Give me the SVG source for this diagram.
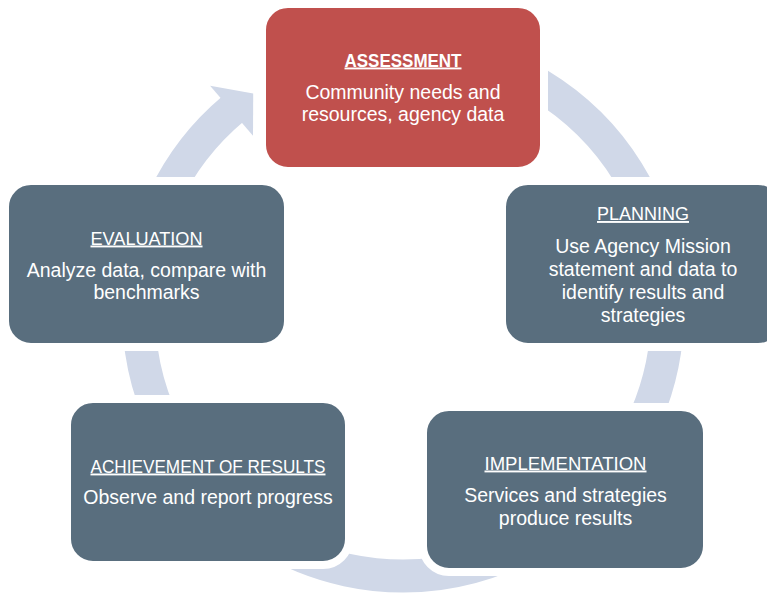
<svg xmlns="http://www.w3.org/2000/svg" width="767" height="596" viewBox="0 0 767 596">
  <style>
    .box { fill: #596E7E; stroke: #FFFFFF; stroke-width: 8; }
    .red { fill: #C0504D; }
    .arc { fill: none; stroke: #D0D8E8; stroke-width: 33; stroke-linecap: butt; }
    .head { fill: #D0D8E8; }
    text { font-family: "Liberation Sans", Arial, sans-serif; fill: #FFFFFF; text-anchor: middle; }
    .t { font-size: 19px; text-decoration: underline; }
    .tb { font-weight: bold; }
    .b { font-size: 19.5px; }
  </style>
  <rect width="767" height="596" fill="#FFFFFF"/>
  <g id="connectors">
    <path class="arc" d="M 448.9 51.0 A 264.5 264.5 0 1 1 233.0 108.9"/>
    <polygon class="head" points="210.1,85.7 253.2,93.5 253.0,135.8"/>
  </g>
  <g id="assessment">
    <rect class="box red" x="262" y="4" width="282" height="167" rx="26"/>
    <text class="t tb" x="403" y="66.5" textLength="117" lengthAdjust="spacingAndGlyphs">ASSESSMENT</text>
    <text class="b" x="403" y="98.5">Community needs and</text>
    <text class="b" x="403" y="120.5">resources, agency data</text>
  </g>
  <g id="planning">
    <rect class="box" x="502" y="181" width="282" height="166" rx="26"/>
    <text class="t" x="643" y="220" textLength="92" lengthAdjust="spacingAndGlyphs">PLANNING</text>
    <text class="b" x="643" y="252.5">Use Agency Mission</text>
    <text class="b" x="643" y="275.5">statement and data to</text>
    <text class="b" x="643" y="298.5">identify results and</text>
    <text class="b" x="643" y="321.5">strategies</text>
  </g>
  <g id="implementation">
    <rect class="box" x="423" y="407" width="284" height="165" rx="26"/>
    <text class="t" x="565.5" y="469.5" textLength="162" lengthAdjust="spacingAndGlyphs">IMPLEMENTATION</text>
    <text class="b" x="565.5" y="502">Services and strategies</text>
    <text class="b" x="565.5" y="524.5">produce results</text>
  </g>
  <g id="achievement">
    <rect class="box" x="67" y="399" width="282" height="166" rx="26"/>
    <text class="t" x="208" y="472.5" textLength="235" lengthAdjust="spacingAndGlyphs">ACHIEVEMENT OF RESULTS</text>
    <text class="b" x="208" y="503.5">Observe and report progress</text>
  </g>
  <g id="evaluation">
    <rect class="box" x="5" y="181" width="283" height="166" rx="26"/>
    <text class="t" x="146.5" y="244.5" textLength="112" lengthAdjust="spacingAndGlyphs">EVALUATION</text>
    <text class="b" x="146.5" y="276.5">Analyze data, compare with</text>
    <text class="b" x="146.5" y="298.5">benchmarks</text>
  </g>
</svg>
